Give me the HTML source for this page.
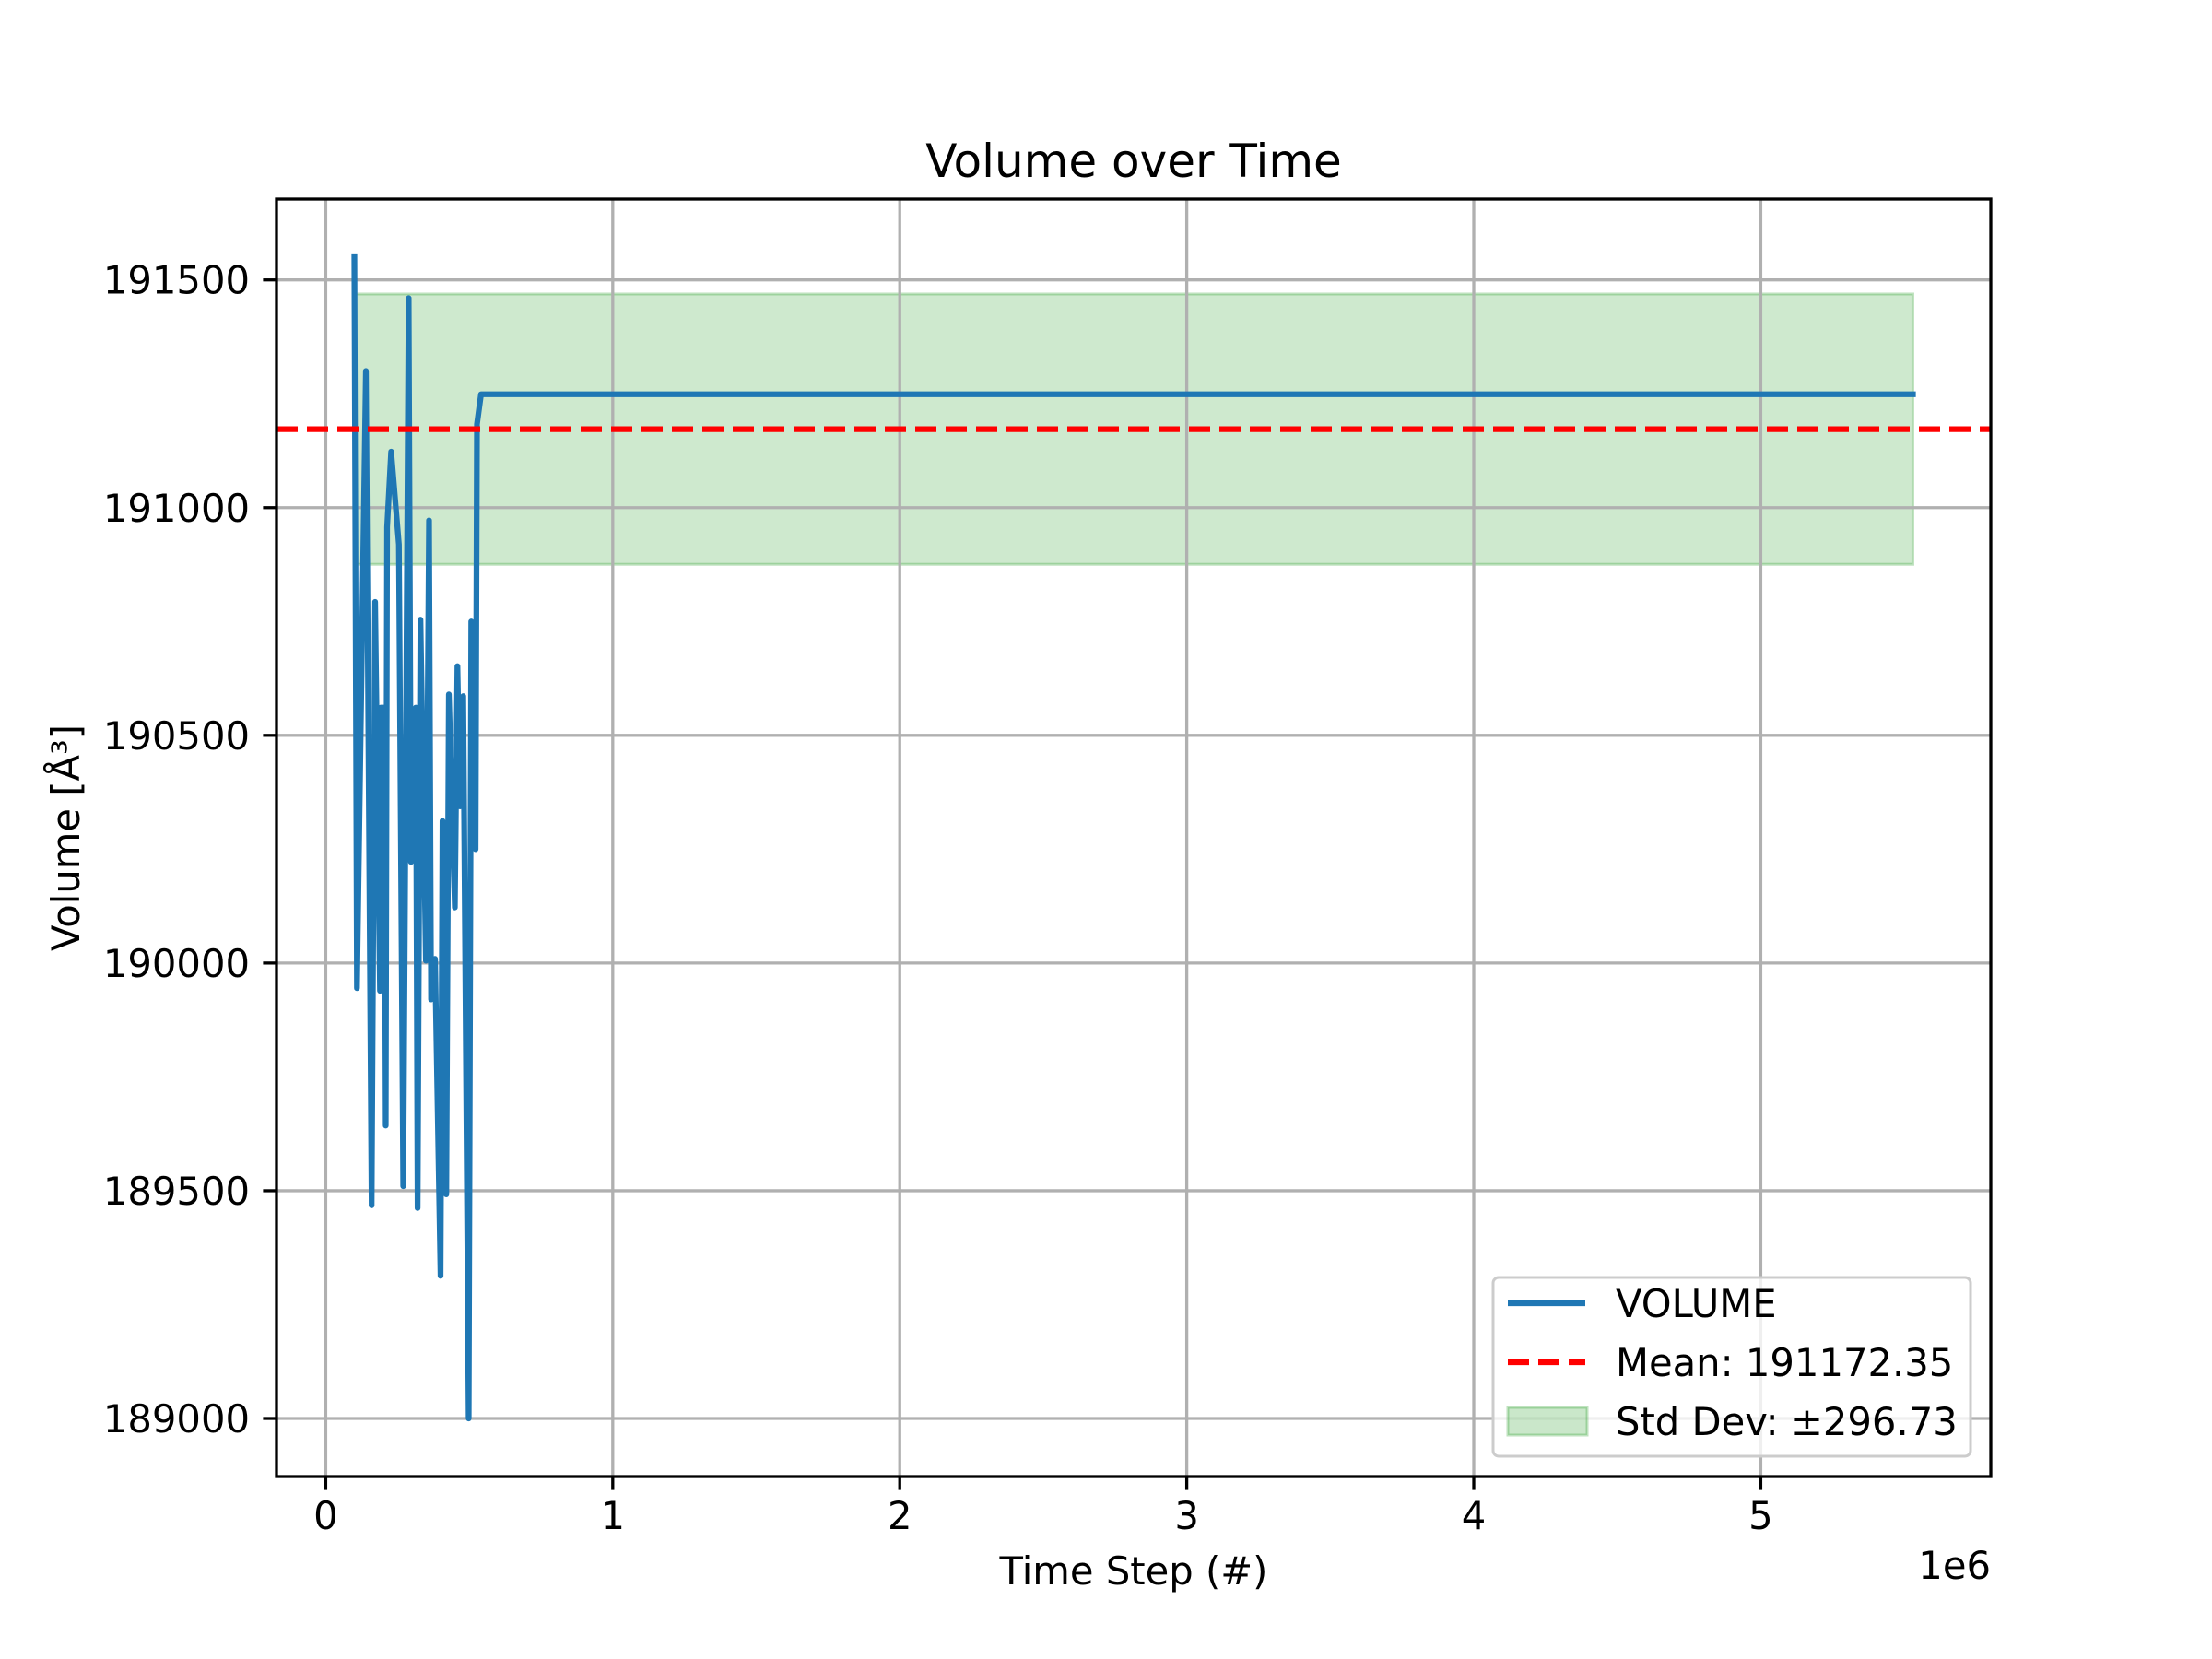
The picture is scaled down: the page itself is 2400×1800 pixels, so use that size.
<!DOCTYPE html>
<html><head><meta charset="utf-8"><style>
html,body{margin:0;padding:0;background:#fff;}
svg{display:block;font-family:"DejaVu Sans","Liberation Sans",sans-serif;}
</style></head><body>
<svg id="chart" width="2400" height="1800" viewBox="0 0 2400 1800" xmlns="http://www.w3.org/2000/svg">
<rect width="2400" height="1800" fill="#fff"/>
<g id="band"></g>
<g id="grid"></g>
<g id="series"></g>
<g id="mean"></g>
<rect x="300" y="216" width="1860" height="1386" fill="none" stroke="#000" stroke-width="3.3"/>
<g id="ticks" font-size="41.7" fill="#000"></g>
<text x="1230" y="192" text-anchor="middle" font-size="50">Volume over Time</text>
<text x="1230" y="1719" text-anchor="middle" font-size="41.7">Time Step (#)</text>
<text x="2160" y="1713" text-anchor="end" font-size="41.7">1e6</text>
<text transform="translate(86,909) rotate(-90)" text-anchor="middle" font-size="41.7">Volume [Å³]</text>
<g>
<rect x="1620" y="1386" width="518" height="194" rx="6" fill="#fff" fill-opacity="0.8" stroke="#ccc" stroke-width="3"/>
<line x1="1636" y1="1414" x2="1720" y2="1414" stroke="#1f77b4" stroke-width="6.25"/>
<text x="1753" y="1429" font-size="41.7">VOLUME</text>
<line x1="1636" y1="1478" x2="1720" y2="1478" stroke="#ff0000" stroke-width="6.25" stroke-dasharray="23,10"/>
<text x="1753" y="1493" font-size="41.7">Mean: 191172.35</text>
<rect x="1636" y="1527" width="86" height="30" fill="#2ca02c" fill-opacity="0.25" stroke="#2ca02c" stroke-opacity="0.3" stroke-width="3"/>
<text x="1753" y="1557" font-size="41.7">Std Dev: ±296.73</text>
</g>
</svg>
<script>
const timesteps = [0.1,0.109,0.14,0.16,0.172,0.189,0.192,0.204,0.209,0.214,0.228,0.255,0.27,0.289,0.297,0.314,0.32,0.33,0.349,0.36,0.367,0.381,0.4,0.407,0.42,0.429,0.45,0.459,0.468,0.479,0.498,0.507,0.522,0.527,0.541,5.53];
const volumes = [191550,189945,191300,189468,190793,189939,190561,190561,189643,190957,191123,190919,189510,191460,190222,190561,189462,190754,190005,190972,189920,190009,189313,190312,189492,190590,190122,190652,190344,190586,189000,190750,190250,191183,191249,191249];
const meanValue = 191172.35;
const stdValue = 296.73;
const xTicks = [0,1,2,3,4,5];
const yTicks = [189000,189500,190000,190500,191000,191500];

const L=300,R=2160,T=216,B=1602;
const x0=-0.1715,x1=5.8015,y0=188872.5,y1=191677.5;
const X=v=>L+(v-x0)/(x1-x0)*(R-L);
const Y=v=>B-(v-y0)/(y1-y0)*(B-T);
const NS='http://www.w3.org/2000/svg';
function mk(tag,attrs,parent){const e=document.createElementNS(NS,tag);for(const k in attrs)e.setAttribute(k,attrs[k]);parent.appendChild(e);return e;}
const grid=document.getElementById('grid'),ticks=document.getElementById('ticks');
xTicks.forEach(t=>{
  const g=mk('line',{x1:X(t),x2:X(t),y1:T,y2:B,stroke:'#b0b0b0','stroke-width':3.3},grid);
  
  
  const tk=mk('line',{x1:X(t),x2:X(t),y1:B,y2:B+14.6,stroke:'#000','stroke-width':3.3},ticks);
  
  
  const tx=mk('text',{x:X(t),y:B+57,'text-anchor':'middle'},ticks);
  tx.textContent=t;
  
  
});
yTicks.forEach(t=>{
  const g=mk('line',{x1:L,x2:R,y1:Y(t),y2:Y(t),stroke:'#b0b0b0','stroke-width':3.3},grid);
  
  
  const tk=mk('line',{x1:L-14.6,x2:L,y1:Y(t),y2:Y(t),stroke:'#000','stroke-width':3.3},ticks);
  
  
  const tx=mk('text',{x:L-29,y:Y(t)+15,'text-anchor':'end'},ticks);
  tx.textContent=t;
  
  
});
const tmin=timesteps[0],tmax=timesteps[timesteps.length-1];
const band=mk('rect',{x:X(tmin),y:Y(meanValue+stdValue),width:X(tmax)-X(tmin),height:Y(meanValue-stdValue)-Y(meanValue+stdValue),fill:'#2ca02c','fill-opacity':0.23,stroke:'#2ca02c','stroke-opacity':0.3,'stroke-width':3},document.getElementById('band'));


const pts=timesteps.map((t,i)=>X(t).toFixed(1)+','+Y(volumes[i]).toFixed(1)).join(' ');
const line=mk('polyline',{points:pts,fill:'none',stroke:'#1f77b4','stroke-width':6.25,'stroke-linejoin':'round','stroke-linecap':'square'},document.getElementById('series'));


const ml=mk('line',{x1:L,x2:R,y1:Y(meanValue),y2:Y(meanValue),stroke:'#ff0000','stroke-width':6.25,'stroke-dasharray':'23,10'},document.getElementById('mean'));


</script>
</body></html>
